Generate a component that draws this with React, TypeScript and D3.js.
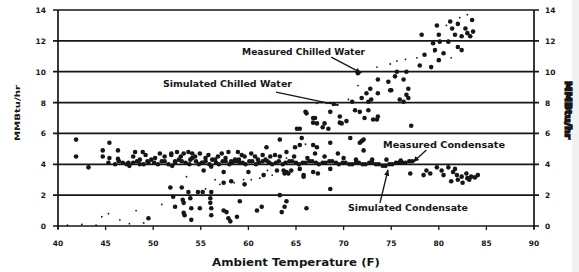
import React from "react";
import * as d3 from "d3";

// ---------- data (temperature °F, MMBtu/hr) ----------
const measuredChilled: [number, number][] = [
  [49.5, 0.5], [51.8, 2.5], [52.1, 1.9], [52.3, 1.25], [53.0, 2.5], [53.1, 1.7], [53.2, 1.5], [53.3, 0.7],
  [53.2, 0.85], [53.7, 2.2], [53.9, 1.8], [54.0, 1.15], [54.0, 0.4], [54.7, 2.2], [54.9, 1.15], [55.2, 2.2],
  [56.0, 1.8], [56.0, 1.5], [56.1, 1.15], [56.1, 0.7], [56.1, 2.2], [57.4, 2.8], [57.4, 1.0], [57.7, 0.9],
  [58.1, 0.3], [58.2, 2.9], [57.9, 0.5], [58.8, 0.6], [59.1, 1.6], [59.6, 2.7], [60.9, 1.0], [61.4, 1.25],
  [61.6, 3.3], [63.0, 3.6], [63.8, 3.4], [64.0, 1.6], [63.5, 0.9], [63.8, 1.25], [64.2, 3.4], [65.8, 3.2],
  [63.3, 2.0], [66.1, 1.15], [68.6, 2.4], [64.9, 5.1], [65.4, 5.25], [65.6, 5.7], [65.4, 6.3], [66.8, 6.7],
  [67.8, 6.4], [69.6, 6.7], [66.8, 5.25], [68.6, 5.4], [69.4, 4.7], [70.7, 5.7], [71.9, 5.5], [72.1, 4.9],
  [73.1, 6.9], [71.7, 5.4], [72.1, 5.6], [67.2, 5.1], [61.9, 5.1], [63.3, 5.6],
  [71.5, 9.9], [73.6, 9.5], [74.7, 9.35], [75.4, 9.7], [75.0, 8.8], [72.8, 8.9], [73.6, 8.6], [72.4, 8.6],
  [71.9, 8.3], [72.6, 8.05], [72.9, 8.2], [70.9, 8.05], [71.2, 7.5], [71.7, 7.4], [72.6, 7.5], [73.5, 6.9],
  [73.6, 7.1], [72.2, 7.0], [69.6, 7.1], [70.3, 6.8], [68.6, 7.4], [66.8, 7.0], [67.2, 6.65], [66.0, 7.4],
  [68.0, 6.65], [68.4, 6.3], [69.8, 6.65], [75.6, 10.0], [77.1, 6.5], [66.1, 7.3], [67.0, 7.0], [65.1, 6.3],
  [79.8, 13.0], [81.2, 13.25], [82.0, 13.1], [83.5, 13.35], [81.4, 12.8], [82.8, 12.8], [83.6, 12.6],
  [81.7, 12.4], [82.4, 12.3], [83.0, 12.5], [83.3, 12.3], [80.0, 12.4], [78.2, 12.4], [79.4, 11.85],
  [80.1, 11.95], [81.0, 11.95], [82.0, 11.6], [82.4, 11.4], [79.6, 11.4], [80.5, 11.2], [78.5, 11.1],
  [80.0, 10.75], [78.0, 10.4], [79.2, 10.3], [76.6, 10.0], [76.3, 9.5], [76.8, 8.9], [76.6, 8.5],
  [76.8, 8.3], [75.9, 8.2], [76.3, 8.05], [74.9, 8.8],
];

const simulatedChilled: [number, number][] = [
  [41.0, 0.05], [42.5, 0.1], [44.0, 0.05], [44.6, 0.6], [45.3, 0.8], [46.5, 0.4], [47.5, 0.15], [48.2, 1.0],
  [49.0, 0.2], [50.9, 1.4], [51.9, 2.5], [53.5, 3.2], [55.5, 2.4], [56.5, 3.0], [57.0, 2.7], [58.5, 2.8],
  [59.5, 3.0], [60.3, 3.0], [61.2, 3.1], [62.0, 3.6], [62.5, 3.3], [64.0, 4.4], [66.0, 5.3], [67.2, 7.95],
  [68.2, 7.95], [69.4, 7.85], [70.5, 8.2], [71.5, 9.1], [73.5, 10.3], [74.9, 10.5], [75.6, 10.7],
  [76.5, 10.8], [77.7, 10.9], [79.5, 11.3], [81.3, 10.9], [82.2, 13.5], [83.0, 13.7], [80.8, 13.0],
];

const measuredCondensate: [number, number][] = [
  [41.9, 5.6], [41.9, 4.5], [45.4, 5.4], [44.7, 4.9], [46.3, 4.9], [44.7, 4.5], [45.4, 4.4], [46.3, 4.35],
  [43.2, 3.8], [45.3, 4.1], [47.4, 4.1], [48.1, 4.8], [48.9, 4.8], [49.5, 4.1], [48.6, 4.3], [50.7, 4.7],
  [51.2, 4.5], [51.9, 4.6], [52.3, 4.2], [51.9, 4.7], [52.5, 4.8], [53.2, 4.7], [53.7, 4.8], [53.9, 4.3],
  [54.4, 4.5], [54.9, 4.7], [55.1, 4.1], [55.3, 3.6], [55.8, 4.6], [56.1, 3.85], [56.5, 4.3], [57.2, 4.7],
  [57.4, 3.5], [57.9, 4.8], [58.2, 4.2], [58.6, 4.3], [58.9, 4.8], [59.1, 4.1], [59.6, 4.5], [60.0, 3.5],
  [60.3, 4.7], [61.0, 4.3], [62.3, 4.5], [63.3, 4.5], [64.0, 4.8], [63.7, 3.6], [64.0, 3.5], [64.5, 3.6],
  [65.4, 3.7], [65.8, 3.3], [66.8, 3.5], [67.3, 3.4], [68.6, 3.7], [67.0, 4.7], [77.0, 3.4], [78.4, 3.3],
  [79.1, 3.4], [79.8, 3.8], [80.3, 3.6], [80.5, 3.3], [81.0, 3.8], [81.7, 3.7], [81.3, 2.9], [81.9, 3.3],
  [82.4, 3.2], [82.9, 3.4], [83.4, 3.2], [84.1, 3.3], [82.0, 3.0], [83.0, 3.1], [83.8, 3.15], [82.5, 2.8],
  [47.9, 4.5], [49.2, 4.6], [50.2, 4.4], [52.9, 4.5], [54.1, 4.7], [55.5, 4.4], [56.8, 4.5], [57.6, 4.4],
  [59.3, 4.6], [60.7, 4.5], [61.5, 4.6], [62.0, 4.2], [62.8, 4.6], [64.8, 4.5], [66.2, 4.4], [68.0, 4.5],
  [70.0, 4.4], [71.3, 4.3], [73.0, 4.3], [74.5, 4.3], [76.0, 4.25], [78.7, 3.6], [81.5, 3.5], [83.2, 3.0],
];

const simulatedCondensate: [number, number][] = [
  [46.0, 4.0], [46.4, 4.2], [46.8, 4.1], [47.2, 4.0], [47.5, 3.9], [47.9, 4.1], [48.3, 4.2], [48.6, 4.0],
  [49.0, 4.0], [49.4, 4.2], [49.8, 4.3], [50.1, 4.1], [50.5, 4.0], [50.9, 4.2], [51.2, 4.2], [51.6, 4.0],
  [52.0, 3.9], [52.3, 4.1], [52.7, 4.3], [53.0, 4.2], [53.4, 4.1], [53.8, 4.0], [54.1, 4.4], [54.5, 4.2],
  [54.8, 4.0], [55.2, 4.1], [55.5, 4.2], [55.9, 4.0], [56.2, 4.3], [56.6, 4.1], [56.9, 4.0], [57.3, 4.2],
  [57.6, 4.2], [58.0, 4.0], [58.3, 4.1], [58.7, 4.2], [59.0, 4.3], [59.4, 4.1], [59.7, 4.0], [60.1, 4.2],
  [60.4, 4.2], [60.8, 4.0], [61.1, 4.1], [61.5, 4.2], [61.8, 4.3], [62.2, 4.1], [62.5, 4.0], [62.9, 4.1],
  [63.2, 4.2], [63.6, 4.0], [63.9, 4.1], [64.3, 4.2], [64.6, 4.2], [65.0, 4.1], [65.3, 4.0], [65.7, 4.1],
  [66.0, 4.1], [66.4, 4.2], [66.7, 4.2], [67.1, 4.1], [67.4, 4.0], [67.8, 4.1], [68.1, 4.1], [68.5, 4.2],
  [68.8, 4.2], [69.2, 4.1], [69.5, 4.0], [69.9, 4.1], [70.2, 4.1], [70.6, 4.0], [70.9, 4.0], [71.3, 4.1],
  [71.6, 4.1], [72.0, 4.0], [72.3, 4.0], [72.7, 4.1], [73.0, 4.1], [73.4, 4.0], [73.7, 4.0], [74.1, 3.9],
  [74.4, 3.9], [74.8, 4.0], [75.1, 4.0], [75.5, 4.1], [75.8, 4.1], [76.2, 4.1], [76.5, 4.1], [76.9, 4.2],
  [77.2, 4.2],
];

const xTicks = [40, 45, 50, 55, 60, 65, 70, 75, 80, 85, 90];
const yTicks = [0, 2, 4, 6, 8, 10, 12, 14];

const annotationLabels = ["Measured Chilled Water", "Simulated Chilled Water", "Measured Condensate", "Simulated Condensate"];
// text centre and arrow (from -> to) in data units
const annotationText: [number, number][] = [[65.8, 11.28], [57.8, 9.2], [80.55, 5.25], [76.76, 1.17]];
const annotationArrow: [number, number, number, number][] = [
  [68.7, 10.95, 71.85, 9.92],
  [62.9, 8.68, 69.4, 7.84],
  [78.7, 4.93, 77.3, 4.15],
  [73.82, 1.49, 74.66, 3.63],
];
const annotationWidths = [123, 129, 122, 120];

export default function App() {
  const W = 579, H = 272;
  const x = d3.scaleLinear().domain([40, 90]).range([58, 534]);
  const y = d3.scaleLinear().domain([0, 14]).range([226, 10]);
  const ink = "#161616";
  const font = "'DejaVu Sans', 'Liberation Sans', sans-serif";

  return (
    <svg width={W} height={H} style={{ position: "absolute", left: 0, top: 0, background: "#fff" }} fontFamily={font}>
      <defs>
        <marker id="ah" viewBox="0 0 10 10" refX="9" refY="5" markerWidth="5" markerHeight="5" orient="auto">
          <path d="M0,1 L10,5 L0,9 Z" fill={ink} />
        </marker>
      </defs>
      <rect x={572} y={0} width={7} height={H} fill="#f1f1f1" />
      {yTicks.map((t) => (
        <line key={t} x1={53} x2={539} y1={y(t)} y2={y(t)} stroke={ink} strokeWidth={1.7} />
      ))}
      <line x1={x(40)} x2={x(40)} y1={y(14)} y2={y(0) + 3} stroke={ink} strokeWidth={1.7} />
      <line x1={x(90)} x2={x(90)} y1={y(14)} y2={y(0) + 3} stroke={ink} strokeWidth={1.7} />
      {xTicks.map((t) => (
        <g key={t}>
          <line x1={x(t)} x2={x(t)} y1={y(0)} y2={y(0) + 4} stroke={ink} strokeWidth={1.3} />
          <text x={x(t)} y={246} textAnchor="middle" fontSize={7.5} fontWeight="bold" fill={ink}>{t}</text>
        </g>
      ))}
      {yTicks.map((t) => (
        <g key={t}>
          <text x={46} y={y(t) + 3} textAnchor="end" fontSize={7.5} fontWeight="bold" fill={ink}>{t}</text>
          <text x={545} y={y(t) + 3} textAnchor="start" fontSize={7.5} fontWeight="bold" fill={ink}>{t}</text>
        </g>
      ))}
      <text x={296} y={266} textAnchor="middle" fontSize={11} fontWeight="bold" fill={ink} textLength={168} lengthAdjust="spacingAndGlyphs">
        Ambient Temperature (F)
      </text>
      <text transform="translate(20,113) rotate(-90)" textAnchor="middle" fontSize={7.5} fontWeight="bold" fill={ink} textLength={56} lengthAdjust="spacingAndGlyphs">
        MMBtu/hr
      </text>
      <text transform="translate(565,110) rotate(90)" textAnchor="middle" fontSize={8} fontWeight="bold" fill={ink} stroke={ink} strokeWidth={1.2} textLength={58} lengthAdjust="spacingAndGlyphs">
        MMBtu/hr
      </text>
      {simulatedCondensate.map(([t, v], i) => (
        <circle key={"sc" + i} cx={x(t)} cy={y(v)} r={2.3} fill={ink} />
      ))}
      {measuredCondensate.map(([t, v], i) => (
        <circle key={"mc" + i} cx={x(t)} cy={y(v)} r={2.3} fill={ink} />
      ))}
      {measuredChilled.map(([t, v], i) => (
        <circle key={"mw" + i} cx={x(t)} cy={y(v)} r={2.3} fill={ink} />
      ))}
      {simulatedChilled.map(([t, v], i) => (
        <circle key={"sw" + i} cx={x(t)} cy={y(v)} r={0.9} fill={ink} />
      ))}
      {annotationLabels.map((lab, i) => {
        const [tx, ty] = annotationText[i];
        const [x1, y1, x2, y2] = annotationArrow[i];
        return (
          <g key={lab}>
            <text x={x(tx)} y={y(ty)} dy="0.35em" textAnchor="middle" fontSize={8} fontWeight="bold" fill={ink}
              textLength={annotationWidths[i]} lengthAdjust="spacingAndGlyphs">{lab}</text>
            <line x1={x(x1)} y1={y(y1)} x2={x(x2)} y2={y(y2)} stroke={ink} strokeWidth={1.3} markerEnd="url(#ah)" />
          </g>
        );
      })}
    </svg>
  );
}
